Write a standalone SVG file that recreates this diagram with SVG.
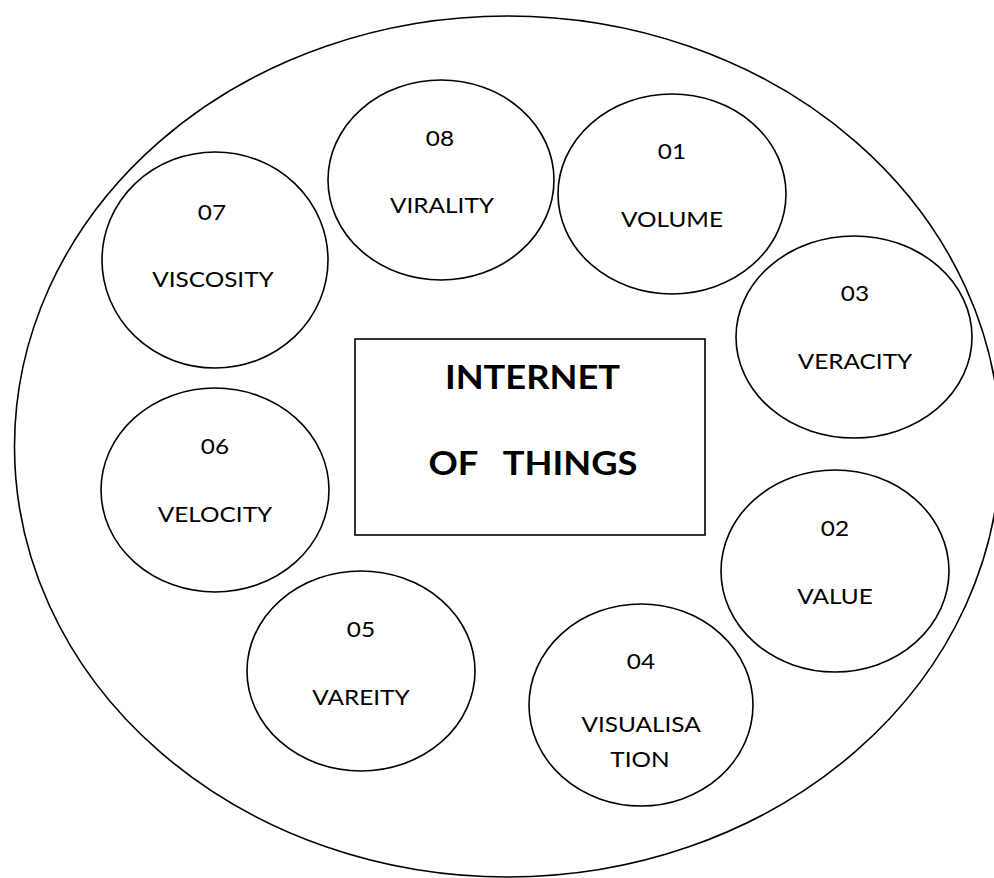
<svg xmlns="http://www.w3.org/2000/svg" width="994" height="878" viewBox="0 0 994 878">
  <style>
    .shape { fill: #ffffff; stroke: #000000; stroke-width: 1.6; }
    .label { font-family: Lato, "Liberation Sans", sans-serif; font-size: 21px; fill: #000000; text-anchor: middle; }
    .title { font-family: Lato, "Liberation Sans", sans-serif; font-size: 33px; font-weight: bold; fill: #000000; text-anchor: middle; }
  </style>
  <rect width="994" height="878" fill="#ffffff"/>

  <!-- outer boundary -->
  <g id="boundary">
    <ellipse class="shape" cx="507.5" cy="446.5" rx="493" ry="430.5"/>
  </g>

  <!-- no connectors in this figure -->
  <g id="connectors"/>

  <!-- labels are widened slightly with a horizontal scale -->
  <g id="centre">
    <rect class="shape" x="355" y="339" width="350" height="196" stroke-width="2"/>
    <text class="title" transform="translate(532.5 389) scale(1.1 1)">INTERNET</text>
    <text class="title" transform="translate(533 475) scale(1.1 1)" xml:space="preserve">OF   THINGS</text>
  </g>

  <g id="n08">
    <ellipse class="shape" cx="441" cy="180" rx="113" ry="100"/>
    <text class="label" transform="translate(440 146) scale(1.16 1)">08</text>
    <text class="label" transform="translate(442 213) scale(1.16 1)">VIRALITY</text>
  </g>

  <g id="n01">
    <ellipse class="shape" cx="672" cy="194" rx="114" ry="100"/>
    <text class="label" transform="translate(672 159) scale(1.16 1)">01</text>
    <text class="label" transform="translate(672 227) scale(1.16 1)">VOLUME</text>
  </g>

  <g id="n07">
    <ellipse class="shape" cx="215" cy="260" rx="113" ry="108"/>
    <text class="label" transform="translate(212 220) scale(1.16 1)">07</text>
    <text class="label" transform="translate(213 287) scale(1.16 1)">VISCOSITY</text>
  </g>

  <g id="n03">
    <ellipse class="shape" cx="854" cy="337" rx="118" ry="101"/>
    <text class="label" transform="translate(855 301) scale(1.16 1)">03</text>
    <text class="label" transform="translate(855 369) scale(1.16 1)">VERACITY</text>
  </g>

  <g id="n06">
    <ellipse class="shape" cx="215" cy="490" rx="114" ry="102"/>
    <text class="label" transform="translate(215 454) scale(1.16 1)">06</text>
    <text class="label" transform="translate(215 522) scale(1.16 1)">VELOCITY</text>
  </g>

  <g id="n02">
    <ellipse class="shape" cx="835" cy="571" rx="114" ry="101"/>
    <text class="label" transform="translate(835 536) scale(1.16 1)">02</text>
    <text class="label" transform="translate(835 604) scale(1.16 1)">VALUE</text>
  </g>

  <g id="n05">
    <ellipse class="shape" cx="361" cy="671" rx="114" ry="100"/>
    <text class="label" transform="translate(361 637) scale(1.16 1)">05</text>
    <text class="label" transform="translate(361 705) scale(1.16 1)">VAREITY</text>
  </g>

  <g id="n04">
    <ellipse class="shape" cx="641" cy="705" rx="112" ry="101"/>
    <text class="label" transform="translate(641 669) scale(1.16 1)">04</text>
    <text class="label" transform="translate(641 732) scale(1.16 1)">VISUALISA</text>
    <text class="label" transform="translate(640 767) scale(1.16 1)">TION</text>
  </g>
</svg>
